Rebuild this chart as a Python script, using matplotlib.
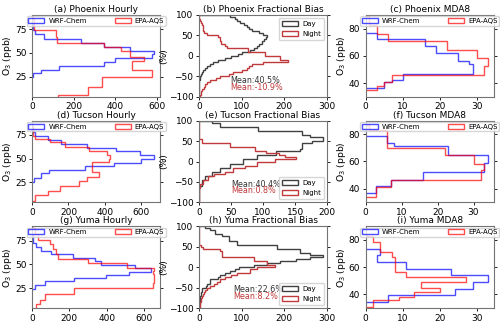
import numpy as np
import matplotlib
matplotlib.use('Agg')
import matplotlib.pyplot as plt

# ---- hourly O3 histograms (bin edges in ppb, counts of hours) ----
phx_hr_wrf_edges = [24.3, 28.5, 32.0, 36.3, 40.8, 44.7, 48.9, 51.8, 56.0, 60.2, 64.8, 69.4, 73.6, 77.5, 80.6, 84.5, 87.0]
phx_hr_wrf_counts = [5, 44, 132, 346, 401, 576, 587, 473, 346, 235, 60, 13, 5, 3, 2, 1]
phx_hr_aqs_edges = [1.6, 5.6, 14.4, 24.3, 32.4, 41.2, 45.4, 52.5, 56.5, 60.2, 66.5, 74.0, 80.0, 86.0, 90.0]
phx_hr_aqs_counts = [124, 270, 338, 576, 482, 538, 473, 428, 346, 120, 116, 10, 8, 6]

tuc_hr_wrf_edges = [25.2, 30.0, 34.5, 38.0, 42.4, 45.9, 50.0, 53.4, 57.5, 61.5, 65.5, 69.5, 73.5, 77.5, 82.0, 86.0]
tuc_hr_wrf_counts = [9, 50, 94, 290, 450, 600, 670, 590, 460, 300, 160, 85, 15, 5, 2]
tuc_hr_aqs_edges = [5.2, 11.4, 16.2, 21.7, 26.6, 31.0, 36.2, 42.0, 46.6, 50.0, 53.4, 57.6, 62.0, 67.2, 70.7, 74.1, 77.6, 84.5]
tuc_hr_aqs_counts = [14, 90, 155, 260, 300, 370, 330, 330, 420, 430, 410, 315, 180, 100, 14, 8, 3]

yum_hr_wrf_edges = [24.0, 28.6, 32.0, 35.5, 39.0, 42.4, 45.9, 49.0, 53.0, 57.0, 60.5, 64.0, 68.0, 72.0, 76.0, 80.5]
yum_hr_wrf_counts = [14, 67, 227, 395, 520, 640, 550, 370, 340, 220, 100, 50, 20, 8, 3]
yum_hr_aqs_edges = [3.0, 8.0, 13.0, 19.0, 25.0, 30.0, 35.0, 40.0, 43.0, 46.0, 51.0, 56.0, 61.0, 66.0, 71.0, 76.0, 82.0, 88.0]
yum_hr_aqs_counts = [20, 45, 70, 225, 650, 655, 655, 650, 655, 510, 300, 140, 130, 110, 95, 30, 15]

# ---- MDA8 histograms (ppb, counts of days) ----
phx_md_wrf_edges = [36.3, 41.0, 42.5, 46.7, 51.5, 54.0, 56.5, 62.0, 67.0, 72.0, 77.0]
phx_md_wrf_counts = [5, 7, 10, 29, 29, 28, 25, 19, 16, 3]
phx_md_aqs_edges = [34.8, 38.0, 41.0, 46.2, 52.8, 58.5, 64.4, 70.9, 76.3, 82.5, 86.0, 89.5]
phx_md_aqs_counts = [3, 5, 7, 32, 33, 30, 22, 6, 3, 1, 1]

tuc_md_wrf_edges = [37.0, 41.9, 46.8, 52.2, 59.1, 64.5, 71.4, 73.9, 78.8]
tuc_md_wrf_counts = [3, 7, 16, 33, 34, 23, 8, 6]
tuc_md_aqs_edges = [33.8, 41.0, 46.8, 53.5, 58.4, 64.5, 69.9, 76.8, 83.0, 87.0]
tuc_md_aqs_counts = [3, 7, 32, 33, 30, 22, 6, 6, 1]

yum_md_wrf_edges = [34.3, 39.3, 44.2, 49.1, 54.1, 59.0, 63.5, 68.9, 73.3]
yum_md_wrf_counts = [6, 24, 29, 33, 23, 11, 3, 4]
yum_md_aqs_edges = [30.6, 35.6, 38.0, 41.7, 45.0, 49.1, 52.8, 56.5, 67.7, 70.9, 78.3, 82.5]
yum_md_aqs_counts = [2, 9, 13, 20, 15, 27, 11, 8, 7, 4, 2]

# ---- fractional bias histograms (%), 5% bins from -100 to 100 ----
fb_edges = [-100, -95, -90, -85, -80, -75, -70, -65, -60, -55, -50, -45, -40, -35, -30, -25, -20, -15, -10, -5,
            0, 5, 10, 15, 20, 25, 30, 35, 40, 45, 50, 55, 60, 65, 70, 75, 80, 85, 90, 95, 100]
phx_fb_day = [0, 0, 0, 0, 0, 0, 0, 1, 2, 3, 5, 7, 10, 15, 20, 25, 32, 45, 60, 75,
              92, 100, 120, 128, 135, 140, 148, 152, 158, 160, 150, 140, 125, 118, 112, 105, 97, 90, 85, 73]
phx_fb_night = [3, 5, 6, 8, 12, 15, 20, 26, 40, 50, 70, 80, 100, 112, 118, 125, 150, 209, 190, 190,
                155, 155, 115, 115, 65, 60, 52, 50, 50, 45, 19, 11, 10, 10, 9, 8, 5, 3, 0, 0]
tuc_fb_day = [0, 0, 0, 0, 0, 0, 1, 1, 5, 5, 5, 10, 10, 20, 20, 33, 33, 49, 49, 69,
              69, 90, 90, 121, 121, 158, 160, 160, 160, 177, 193, 193, 173, 160, 160, 92, 92, 33, 33, 20]
tuc_fb_night = [0, 0, 0, 0, 0, 0, 1, 2, 2, 7, 7, 15, 15, 23, 41, 54, 54, 72, 90, 90,
                118, 152, 135, 125, 105, 88, 88, 49, 49, 5, 5, 0, 0, 0, 0, 0, 0, 0, 0, 0]
yum_fb_day = [0, 1, 2, 3, 3, 3, 5, 5, 7, 7, 17, 19, 25, 27, 45, 50, 60, 73, 85, 93,
              128, 160, 190, 226, 260, 290, 261, 237, 237, 183, 183, 89, 89, 70, 70, 55, 38, 38, 27, 15]
yum_fb_night = [2, 2, 3, 4, 5, 7, 10, 12, 15, 20, 27, 35, 42, 50, 62, 75, 89, 120, 120, 136,
                179, 159, 159, 128, 128, 54, 54, 54, 50, 9, 5, 0, 0, 0, 0, 0, 0, 0, 0, 0]

titles = ['(a) Phoenix Hourly', '(b) Phoenix Fractional Bias', '(c) Phoenix MDA8',
          '(d) Tucson Hourly', '(e) Tucson Fractional Bias', '(f) Tucson MDA8',
          '(g) Yuma Hourly', '(h) Yuma Fractional Bias', '(i) Yuma MDA8']
day_means = ['Mean:40.5%', 'Mean:40.4%', 'Mean:22.6%']
night_means = ['Mean:-10.9%', 'Mean:0.8%', 'Mean:8.2%']

wrf_color = (0.0, 0.0, 1.0, 0.7)
aqs_color = (1.0, 0.0, 0.0, 0.7)
day_color = (0.0, 0.0, 0.0, 0.75)
night_color = '#c0393b'
fs = 6.2


def step_hist(ax, edges, counts, color, label):
    edges = np.asarray(edges, dtype=float)
    centers = (edges[:-1] + edges[1:]) / 2
    ax.hist(centers, bins=edges, weights=counts, histtype='step',
            orientation='horizontal', color=color, lw=1.0, label=label)


fig, axes = plt.subplots(3, 3, figsize=(5.0, 3.23), dpi=100)
fig.subplots_adjust(left=0.064, right=0.988, top=0.954, bottom=0.046, wspace=0.3, hspace=0.29)

hourly = [(phx_hr_wrf_edges, phx_hr_wrf_counts, phx_hr_aqs_edges, phx_hr_aqs_counts),
          (tuc_hr_wrf_edges, tuc_hr_wrf_counts, tuc_hr_aqs_edges, tuc_hr_aqs_counts),
          (yum_hr_wrf_edges, yum_hr_wrf_counts, yum_hr_aqs_edges, yum_hr_aqs_counts)]
mda8 = [(phx_md_wrf_edges, phx_md_wrf_counts, phx_md_aqs_edges, phx_md_aqs_counts),
        (tuc_md_wrf_edges, tuc_md_wrf_counts, tuc_md_aqs_edges, tuc_md_aqs_counts),
        (yum_md_wrf_edges, yum_md_wrf_counts, yum_md_aqs_edges, yum_md_aqs_counts)]
fb = [(phx_fb_day, phx_fb_night), (tuc_fb_day, tuc_fb_night), (yum_fb_day, yum_fb_night)]
fb_xmax = [300, 200, 300]
fb_legend_loc = ['upper right', 'lower right', 'lower right']
mean_pos = [(73, -61, -78), (50, -55, -72), (81, -54, -71)]

leg_kw = dict(fontsize=5, handlelength=2.3, handleheight=0.7, handletextpad=0.6)

for r in range(3):
    # hourly
    ax = axes[r, 0]
    we, wc, ae, ac = hourly[r]
    step_hist(ax, we, wc, wrf_color, 'WRF-Chem')
    step_hist(ax, ae, ac, aqs_color, 'EPA-AQS')
    ax.set_ylim(4, 90)
    ax.set_yticks([25, 50, 75])
    ax.set_ylabel('O$_3$ (ppb)', fontsize=fs + 0.5, labelpad=0.5)
    ax.legend(loc='upper center', ncol=2, columnspacing=4.0, borderpad=0.25,
              labelspacing=0.2, borderaxespad=0.2, **leg_kw)

    # fractional bias
    ax = axes[r, 1]
    d, n = fb[r]
    step_hist(ax, fb_edges, d, day_color, 'Day')
    step_hist(ax, fb_edges, n, night_color, 'Night')
    ax.set_xlim(0, fb_xmax[r])
    ax.set_ylim(-100, 100)
    ax.set_yticks([-100, -50, 0, 50, 100])
    ax.set_ylabel('(%)', fontsize=fs + 0.5, labelpad=0.5)
    ax.legend(loc=fb_legend_loc[r], borderpad=0.45, labelspacing=0.6,
              borderaxespad=0.45, **leg_kw)
    mx, my1, my2 = mean_pos[r]
    ax.text(mx, my1, day_means[r], fontsize=5.8, color='0.2', va='center')
    ax.text(mx, my2, night_means[r], fontsize=5.8, color=night_color, va='center')

    # MDA8
    ax = axes[r, 2]
    we, wc, ae, ac = mda8[r]
    step_hist(ax, we, wc, wrf_color, 'WRF-Chem')
    step_hist(ax, ae, ac, aqs_color, 'EPA-AQS')
    ax.set_ylim(30, 90)
    ax.set_yticks([40, 60, 80])
    ax.set_ylabel('O$_3$ (ppb)', fontsize=fs + 0.5, labelpad=0.5)
    ax.legend(loc='upper center', ncol=2, columnspacing=4.0, borderpad=0.25,
              labelspacing=0.2, borderaxespad=0.2, **leg_kw)

for i, ax in enumerate(axes.flat):
    ax.set_title(titles[i], fontsize=fs + 0.3, pad=2)
    ax.tick_params(labelsize=fs + 0.3, length=2.5, width=0.6, pad=1.5, right=True)
    for s in ax.spines.values():
        s.set_color('0.45')
        s.set_linewidth(0.8)

fig.savefig('out.png', dpi=100)
